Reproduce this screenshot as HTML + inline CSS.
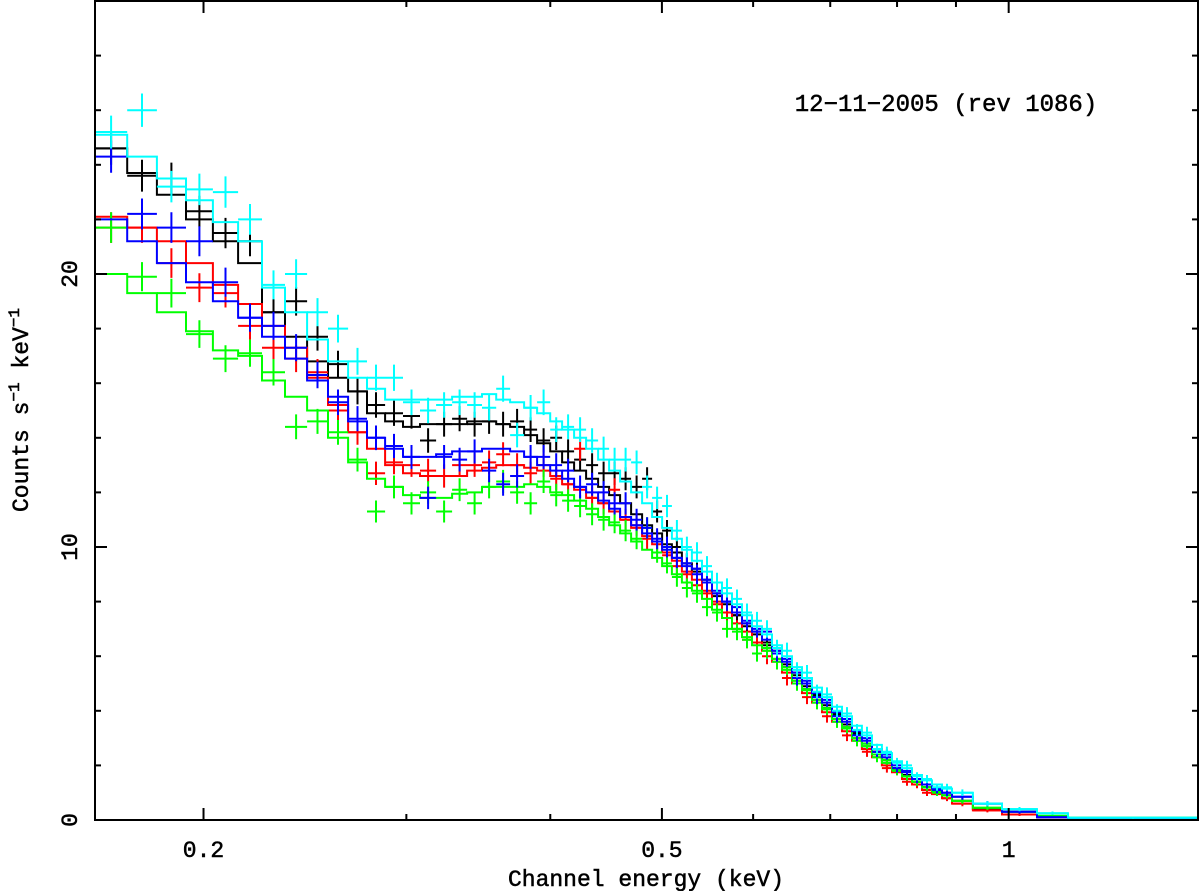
<!DOCTYPE html>
<html><head><meta charset="utf-8"><style>
html,body{margin:0;padding:0;background:#fff;}
svg{display:block;}
text{font-family:"Liberation Mono","DejaVu Sans Mono",monospace;fill:#000;stroke:#000;stroke-width:0.5px;}
</style></head><body>
<svg id="chart" width="1200" height="891" viewBox="0 0 1200 891" xmlns="http://www.w3.org/2000/svg">
<g id="series"></g>
<g id="axes"></g>
<text x="946" y="111" font-size="24" text-anchor="middle">12−11−2005 (rev 1086)</text>
<text x="646" y="886" font-size="23" text-anchor="middle">Channel energy (keV)</text>
<text transform="translate(28,410) rotate(-90)" font-size="23" text-anchor="middle">Counts s<tspan dy="-9" font-size="16">−1</tspan><tspan dy="9"> keV</tspan><tspan dy="-9" font-size="16">−1</tspan></text>
</svg>
<script>
const binEdges = [0.161,0.1717,0.1822,0.1931,0.2038,0.2143,0.2248,0.2354,0.2460,0.2565,0.2670,0.2773,0.2875,0.2980,0.3083,0.3184,0.3287,0.3387,0.3490,0.3590,0.3691,0.3796,0.3896,0.3999,0.4096,0.4195,0.4297,0.4401,0.4499,0.4599,0.4701,0.4806,0.4903,0.5002,0.5101,0.5204,0.5309,0.5417,0.5526,0.5638,0.5752,0.5868,0.5986,0.6107,0.6231,0.6356,0.6485,0.6616,0.6749,0.6885,0.7024,0.7166,0.7311,0.7458,0.7609,0.7762,0.7919,0.8079,0.8242,0.8409,0.8579,0.8752,0.8928,0.9310,0.9867,1.0582,1.1258,1.460];
const xTickMajor = [0.2,0.5,1];
const xTickLabels = ["0.2","0.5","1"];
const xTickMinor = [0.3,0.4,0.6,0.7,0.8,0.9];
const yTickMajor = [0,10,20,30];
const yTickLabels = ["0","10","20",""];
const yTickMinor = [2,4,6,8,12,14,16,18,22,24,26,28];

const modelBlack = [24.6,23.7,22.9,22.0,21.2,20.4,18.6,17.7,16.8,16.2,15.7,14.9,14.6,14.4,14.5,14.5,14.5,14.6,14.6,14.5,14.4,14.1,13.8,13.5,13.1,12.8,12.5,12.2,11.9,11.6,11.2,10.8,10.5,10.1,9.8,9.4,9.1,8.7,8.3,7.9,7.5,7.1,6.8,6.5,6.1,5.7,5.3,4.9,4.55,4.2,3.85,3.5,3.15,2.8,2.5,2.2,1.9,1.65,1.4,1.2,1.05,0.9,0.7,0.4,0.2,0.1,0.05];
const dataBlack = [24.6,23.6,23.5,22.3,21.5,21.2,18.6,19.0,17.7,16.7,15.7,15.2,14.9,14.8,13.9,14.5,14.7,14.5,14.6,14.5,14.6,14.3,13.9,14.0,13.5,13.2,13.0,12.7,12.7,12.5,12.2,12.5,11.3,10.6,10.0,9.4,9.2,8.8,8.2,8.0,7.5,7.2,6.9,6.4,6.2,5.6,5.4,4.8,4.6,4.1,3.9,3.4,3.2,2.7,2.5,2.1,1.9,1.6,1.4,1.2,1.0,0.9,0.7,0.4,0.2,0.1,0.05];
const modelRed = [22.1,21.7,21.2,20.4,19.6,18.9,18.1,17.3,16.2,15.2,14.2,13.6,13.0,12.7,12.6,12.6,12.6,12.8,12.9,13.0,13.0,12.9,12.8,12.6,12.3,12.1,11.8,11.6,11.3,11.0,10.7,10.4,10.1,9.8,9.5,9.1,8.8,8.4,8.0,7.6,7.2,6.9,6.5,6.2,5.8,5.4,5.0,4.65,4.3,3.95,3.6,3.25,2.9,2.6,2.3,2.0,1.75,1.5,1.3,1.1,0.95,0.8,0.6,0.35,0.2,0.1,0.05];
const dataRed = [21.7,21.7,20.4,19.5,19.3,18.1,17.3,16.9,16.4,15.0,14.2,12.7,13.1,13.0,12.8,12.6,13.0,13.0,13.1,13.4,13.0,12.7,13.0,12.5,12.3,13.6,11.8,11.6,12.1,11.0,10.8,10.3,10.2,9.7,9.3,9.0,8.6,8.3,7.9,7.4,7.0,6.6,6.5,6.0,5.9,5.2,5.1,4.5,4.4,3.8,3.7,3.1,3.0,2.5,2.4,1.9,1.8,1.4,1.3,1.0,1.0,0.8,0.6,0.35,0.2,0.1,0.05];
const modelGreen = [20.0,19.3,18.6,17.9,17.2,17.0,16.1,15.5,15.0,14.0,13.1,12.5,12.2,11.9,11.8,11.8,11.95,12.0,12.2,12.2,12.2,12.3,12.2,12.0,11.9,11.7,11.4,11.1,10.8,10.5,10.2,9.9,9.6,9.3,9.0,8.7,8.4,8.1,7.7,7.4,7.0,6.7,6.4,6.3,5.9,5.5,5.1,4.75,4.4,4.05,3.7,3.35,3.0,2.7,2.4,2.1,1.85,1.6,1.4,1.2,1.05,0.9,0.7,0.45,0.3,0.15,0.08];
const dataGreen = [21.7,19.9,19.3,17.8,16.9,17.1,16.4,14.4,14.6,14.2,13.2,11.3,12.2,11.6,12.0,11.3,12.1,11.6,12.2,12.4,12.0,11.6,12.4,11.9,11.7,11.5,11.2,11.0,10.9,10.6,10.3,10.7,9.8,9.4,8.9,8.5,8.3,7.8,7.6,7.0,6.9,6.6,6.1,6.2,5.8,5.6,5.0,4.8,4.3,4.1,3.6,3.4,2.9,2.8,2.3,2.2,1.8,1.6,1.4,1.2,1.0,0.9,0.7,0.45,0.3,0.15,0.08];
const modelBlue = [22.0,21.2,20.4,19.7,19.0,18.4,17.7,16.9,16.1,15.5,14.6,14.0,13.6,13.3,13.3,13.4,13.5,13.5,13.6,13.6,13.5,13.3,13.0,12.8,12.5,12.2,12.0,11.7,11.4,11.1,10.8,10.5,10.2,9.9,9.6,9.3,9.2,8.8,8.4,8.0,7.6,7.2,6.9,6.6,6.2,5.8,5.4,5.0,4.65,4.3,3.95,3.6,3.25,2.9,2.6,2.3,2.0,1.75,1.5,1.3,1.15,1.0,0.85,0.6,0.3,0.1,0.05];
const dataBlue = [24.3,22.2,21.7,21.2,19.7,18.4,18.1,17.3,16.3,15.3,14.7,14.0,13.7,13.3,11.8,13.3,13.2,13.5,12.8,12.3,12.6,13.3,13.3,13.0,12.8,12.2,12.3,12.0,11.6,11.6,11.0,10.7,10.3,10.0,9.6,9.4,9.0,8.7,8.3,8.0,7.8,7.3,7.0,6.9,6.1,5.9,5.2,5.1,4.5,4.4,3.8,3.7,3.1,3.0,2.5,2.4,1.9,1.8,1.5,1.3,1.1,1.0,0.85,0.6,0.3,0.1,0.05];
const modelCyan = [25.1,24.3,23.5,22.7,21.9,21.2,19.5,18.6,17.6,16.8,16.2,15.8,15.4,15.4,15.4,15.4,15.5,15.5,15.6,15.4,15.3,15.1,14.9,14.6,14.3,14.0,13.6,13.2,12.8,12.4,12.0,11.6,11.1,10.7,10.3,9.9,9.5,9.1,8.7,8.3,7.9,7.5,7.1,6.8,6.4,6.0,5.6,5.2,4.85,4.5,4.15,3.8,3.45,3.1,2.75,2.45,2.15,1.9,1.65,1.45,1.3,1.15,1.0,0.6,0.4,0.25,0.08];
const dataCyan = [25.2,26.0,23.2,23.1,23.0,22.0,19.6,20.0,18.6,18.0,16.8,16.2,16.2,15.3,15.0,15.2,15.3,15.2,15.1,15.8,14.1,15.1,15.3,14.3,14.4,14.3,13.9,13.6,13.2,13.2,13.1,12.2,11.8,11.5,10.6,10.0,9.8,9.3,8.7,8.5,8.1,7.6,7.3,7.0,6.3,6.2,5.5,5.4,4.7,4.6,4.0,3.9,3.3,3.2,2.6,2.5,2.1,2.0,1.6,1.5,1.2,1.2,1.0,0.6,0.4,0.25,0.08];

const X0=95, X1=1198, Y0=820, Y1=1;
const EMIN=0.161, EMAX=1.460, VMIN=0, VMAX=30;
function xs(e){return X0+(Math.log10(e)-Math.log10(EMIN))/(Math.log10(EMAX)-Math.log10(EMIN))*(X1-X0);}
function ys(v){return Y0-(v-VMIN)/(VMAX-VMIN)*(Y0-Y1);}
const NS="http://www.w3.org/2000/svg";
const seriesG=document.getElementById('series');
const axesG=document.getElementById('axes');

function drawSeries(name,color,model,data){
  const g=document.createElementNS(NS,'g');
  
  
  let d='';
  for(let i=0;i<model.length;i++){
    const xa=xs(binEdges[i]).toFixed(1), xb=xs(binEdges[i+1]).toFixed(1), y=ys(model[i]).toFixed(1);
    d+=(i===0?'M':'L')+xa+','+y+'L'+xb+','+y;
  }
  const p=document.createElementNS(NS,'path');
  p.setAttribute('d',d);p.setAttribute('fill','none');p.setAttribute('stroke',color);p.setAttribute('stroke-width','2');
  
  
  g.appendChild(p);
  let c='';
  for(let i=0;i<data.length;i++){
    const xa=xs(binEdges[i]), xb=xs(binEdges[i+1]), xm=Math.sqrt(binEdges[i]*binEdges[i+1]);
    const err=0.12*Math.sqrt(Math.max(data[i],0.1));
    const y=ys(data[i]);
    c+='M'+xa.toFixed(1)+','+y.toFixed(1)+'L'+xb.toFixed(1)+','+y.toFixed(1);
    c+='M'+xs(xm).toFixed(1)+','+ys(data[i]+err).toFixed(1)+'L'+xs(xm).toFixed(1)+','+ys(data[i]-err).toFixed(1);
  }
  const q=document.createElementNS(NS,'path');
  q.setAttribute('d',c);q.setAttribute('fill','none');q.setAttribute('stroke',color);q.setAttribute('stroke-width','2');
  
  
  g.appendChild(q);
  seriesG.appendChild(g);
}
drawSeries('black','#000000',modelBlack,dataBlack);
drawSeries('red','#ff0000',modelRed,dataRed);
drawSeries('green','#00ff00',modelGreen,dataGreen);
drawSeries('blue','#0000ff',modelBlue,dataBlue);
drawSeries('cyan','#00ffff',modelCyan,dataCyan);

function line(x1,y1,x2,y2,nm){
  const l=document.createElementNS(NS,'line');
  l.setAttribute('x1',x1);l.setAttribute('y1',y1);l.setAttribute('x2',x2);l.setAttribute('y2',y2);
  l.setAttribute('stroke','#000');l.setAttribute('stroke-width','2');
  
  
  axesG.appendChild(l);
}
function txt(x,y,s,nm,rot){
  const t=document.createElementNS(NS,'text');
  t.setAttribute('font-size','23');t.setAttribute('text-anchor','middle');
  if(rot){t.setAttribute('transform','translate('+x+','+y+') rotate(-90)');}
  else{t.setAttribute('x',x);t.setAttribute('y',y);}
  t.textContent=s;
  
  
  axesG.appendChild(t);
}
const fr=document.createElementNS(NS,'rect');
fr.setAttribute('x',X0);fr.setAttribute('y',Y1);fr.setAttribute('width',X1-X0);fr.setAttribute('height',Y0-Y1);
fr.setAttribute('fill','none');fr.setAttribute('stroke','#000');fr.setAttribute('stroke-width','2');


axesG.appendChild(fr);
xTickMajor.forEach((e,i)=>{const x=xs(e);line(x,Y0,x,Y0-12,'x-tick');line(x,Y1,x,Y1+12,'x-tick-top');txt(x,857,xTickLabels[i],'x-tick-label');});
xTickMinor.forEach(e=>{const x=xs(e);line(x,Y0,x,Y0-6,'x-minor-tick');line(x,Y1,x,Y1+6,'x-minor-tick-top');});
yTickMajor.forEach((v,i)=>{const y=ys(v);line(X0,y,X0+12,y,'y-tick');line(X1,y,X1-12,y,'y-tick-right');if(yTickLabels[i])txt(77,y,yTickLabels[i],'y-tick-label',true);});
yTickMinor.forEach(v=>{const y=ys(v);line(X0,y,X0+6,y,'y-minor-tick');line(X1,y,X1-6,y,'y-minor-tick-right');});
</script>
</body></html>
